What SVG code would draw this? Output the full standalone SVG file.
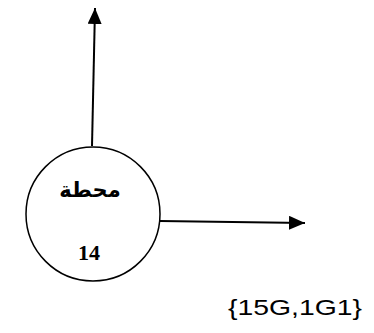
<svg xmlns="http://www.w3.org/2000/svg" width="374" height="333" viewBox="0 0 374 333">
<style>
.edge{stroke:#000;stroke-width:2;fill:none}
.node{fill:#fff;stroke:#000;stroke-width:1.5}
</style>
<defs>
<marker id="ah2" viewBox="0 0 10 10" refX="10" refY="5" markerWidth="16" markerHeight="14" markerUnits="userSpaceOnUse" orient="auto" preserveAspectRatio="none">
<path d="M0,0 L10,5 L0,10 z" fill="#000"/>
</marker>
</defs>
<g id="connectors">
<path class="edge" d="M92,146 L95,8" marker-end="url(#ah2)"/>
<path class="edge" d="M160,221 L305,223" marker-end="url(#ah2)"/>
</g>
<g id="node14">
<circle class="node" cx="93" cy="214" r="67"/>
<text x="90" y="197" font-family="'DejaVu Sans', sans-serif" font-weight="bold" font-size="21" text-anchor="middle">محطة</text>
<text x="89" y="260" font-family="'Liberation Serif', serif" font-weight="bold" font-size="22" text-anchor="middle">14</text>
</g>
<text x="228" y="315" font-family="'Liberation Sans', sans-serif" font-size="22" textLength="134" lengthAdjust="spacingAndGlyphs">{15G,1G1}</text>
</svg>
